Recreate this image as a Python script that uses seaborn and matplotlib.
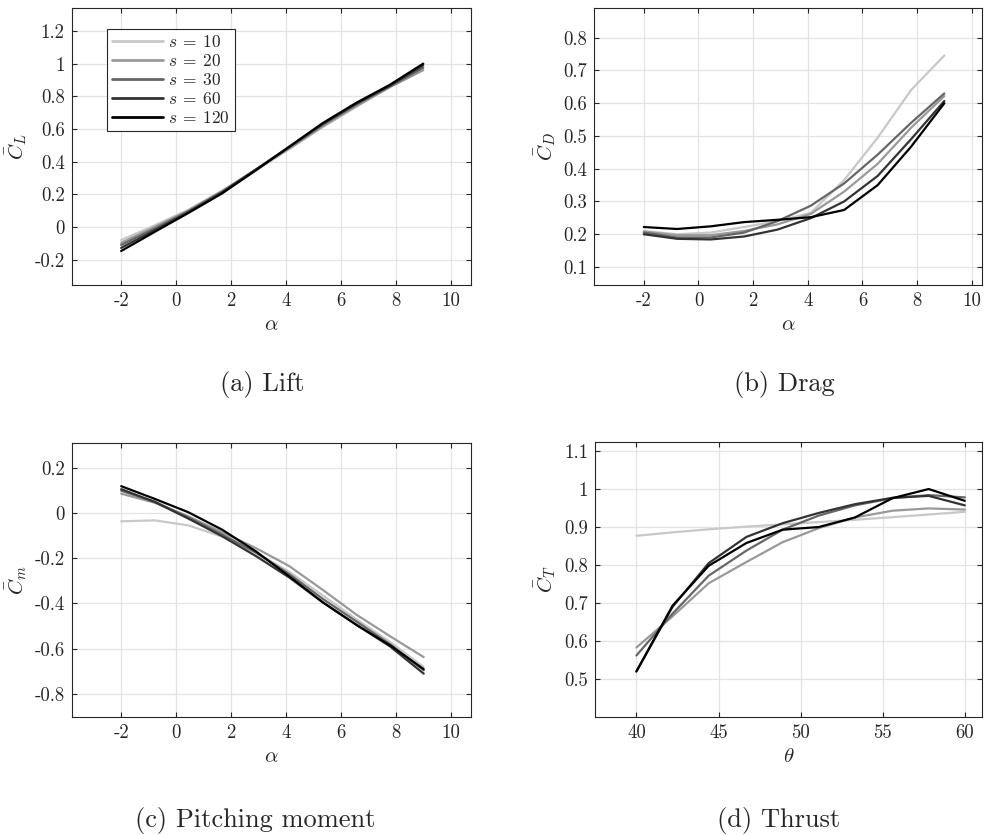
import numpy as np
import pandas as pd
import matplotlib
matplotlib.use("Agg")
import matplotlib.pyplot as plt
import seaborn as sns

# Sample grid: angle of attack (deg) and pitch angle theta (deg)
alpha = [-2.0, -0.78, 0.44, 1.67, 2.89, 4.11, 5.33, 6.56, 7.78, 9.0]
theta = [40.0, 42.2, 44.4, 46.7, 48.9, 51.1, 53.3, 55.6, 57.8, 60.0]

spans = [10, 20, 30, 60, 120]
span_colors = ["#c8c8c8", "#999999", "#666666", "#333333", "#000000"]

# Mean lift coefficient
lift_s10 = [-0.080, 0.010, 0.105, 0.220, 0.345, 0.475, 0.610, 0.735, 0.860, 0.975]
lift_s20 = [-0.097, 0.000, 0.100, 0.220, 0.350, 0.480, 0.615, 0.740, 0.855, 0.960]
lift_s30 = [-0.110, -0.010, 0.095, 0.215, 0.350, 0.485, 0.625, 0.750, 0.860, 0.975]
lift_s60 = [-0.128, -0.020, 0.090, 0.210, 0.350, 0.490, 0.630, 0.755, 0.865, 0.990]
lift_s120 = [-0.147, -0.030, 0.085, 0.205, 0.345, 0.490, 0.635, 0.760, 0.870, 1.000]

# Mean drag coefficient
drag_s10 = [0.210, 0.200, 0.205, 0.222, 0.240, 0.265, 0.365, 0.495, 0.640, 0.746]
drag_s20 = [0.208, 0.197, 0.197, 0.210, 0.230, 0.262, 0.330, 0.415, 0.525, 0.622]
drag_s30 = [0.205, 0.190, 0.190, 0.205, 0.240, 0.287, 0.355, 0.443, 0.540, 0.630]
drag_s60 = [0.200, 0.186, 0.184, 0.193, 0.214, 0.249, 0.300, 0.378, 0.490, 0.607]
drag_s120 = [0.222, 0.216, 0.224, 0.237, 0.244, 0.252, 0.274, 0.350, 0.467, 0.600]

# Mean pitching moment coefficient
moment_s10 = [-0.037, -0.033, -0.055, -0.105, -0.175, -0.260, -0.365, -0.470, -0.570, -0.680]
moment_s20 = [0.085, 0.045, -0.015, -0.085, -0.155, -0.235, -0.340, -0.450, -0.545, -0.637]
moment_s30 = [0.098, 0.050, -0.020, -0.095, -0.175, -0.270, -0.380, -0.480, -0.580, -0.695]
moment_s60 = [0.105, 0.048, -0.025, -0.103, -0.190, -0.285, -0.395, -0.495, -0.590, -0.710]
moment_s120 = [0.118, 0.062, 0.003, -0.074, -0.169, -0.280, -0.395, -0.495, -0.585, -0.690]

# Mean thrust coefficient
thrust_s10 = [0.877, 0.886, 0.894, 0.901, 0.907, 0.913, 0.919, 0.926, 0.933, 0.940]
thrust_s20 = [0.583, 0.665, 0.752, 0.808, 0.860, 0.897, 0.925, 0.943, 0.949, 0.946]
thrust_s30 = [0.562, 0.672, 0.772, 0.838, 0.893, 0.930, 0.957, 0.976, 0.984, 0.978]
thrust_s60 = [0.520, 0.690, 0.805, 0.874, 0.910, 0.937, 0.960, 0.977, 0.982, 0.957]
thrust_s120 = [0.520, 0.693, 0.798, 0.858, 0.893, 0.900, 0.925, 0.976, 1.000, 0.969]

sns.set_style("ticks")
plt.rcParams.update({
    "font.family": "serif",
    "font.serif": ["cmr10", "DejaVu Serif"],
    "mathtext.fontset": "cm",
    "axes.unicode_minus": False,
    "axes.formatter.use_mathtext": True,
})

FG = "#262626"
labels = [rf"$s\:=\:{s}$" for s in spans]
palette = dict(zip(labels, span_colors))


def long_form(xs, series):
    frames = []
    for lab, ys in zip(labels, series):
        frames.append(pd.DataFrame({"x": xs, "y": ys, "s": lab}))
    return pd.concat(frames, ignore_index=True)


def fmt(v):
    return f"{v:g}"


def style_axes(ax, xlim, ylim, xticks, yticks, xlabel, ylabel):
    ax.set_xlim(*xlim)
    ax.set_ylim(*ylim)
    ax.set_xticks(xticks)
    ax.set_xticklabels([fmt(v) for v in xticks])
    ax.set_yticks(yticks)
    ax.set_yticklabels([fmt(v) for v in yticks])
    ax.grid(True, color="#e3e3e3", lw=0.9)
    ax.set_axisbelow(True)
    for sp in ax.spines.values():
        sp.set_visible(True)
        sp.set_color(FG)
        sp.set_linewidth(0.8)
    ax.tick_params(direction="in", length=3.5, width=0.8, color=FG,
                   top=True, right=True, labelsize=13.5, labelcolor=FG, pad=5)
    ax.set_xlabel(xlabel, fontsize=15, color=FG, labelpad=5)
    ax.set_ylabel(ylabel, fontsize=15, color=FG, labelpad=4)


fig = plt.figure(figsize=(9.85, 8.35), dpi=100)
ax_a = fig.add_axes([0.0728, 0.6587, 0.4051, 0.3314])
ax_b = fig.add_axes([0.6034, 0.6587, 0.3936, 0.3314])
ax_c = fig.add_axes([0.0728, 0.1417, 0.4051, 0.3281])
ax_d = fig.add_axes([0.6041, 0.1417, 0.3929, 0.3293])

panels = [
    (ax_a, alpha, [lift_s10, lift_s20, lift_s30, lift_s60, lift_s120]),
    (ax_b, alpha, [drag_s10, drag_s20, drag_s30, drag_s60, drag_s120]),
    (ax_c, alpha, [moment_s10, moment_s20, moment_s30, moment_s60, moment_s120]),
    (ax_d, theta, [thrust_s10, thrust_s20, thrust_s30, thrust_s60, thrust_s120]),
]
for ax, xs, series in panels:
    sns.lineplot(data=long_form(xs, series), x="x", y="y", hue="s",
                 hue_order=labels, palette=palette, lw=1.6, sort=False,
                 estimator=None, legend=(ax is ax_a), ax=ax)

alpha_ticks = [-2, 0, 2, 4, 6, 8, 10]
style_axes(ax_a, (-3.8, 10.73), (-0.355, 1.339), alpha_ticks,
           [-0.2, 0, 0.2, 0.4, 0.6, 0.8, 1, 1.2], r"$\alpha$", r"$\bar{C}_L$")
style_axes(ax_b, (-3.81, 10.38), (0.045, 0.89), alpha_ticks,
           [0.1, 0.2, 0.3, 0.4, 0.5, 0.6, 0.7, 0.8], r"$\alpha$", r"$\bar{C}_D$")
style_axes(ax_c, (-3.8, 10.71), (-0.9, 0.31), alpha_ticks,
           [-0.8, -0.6, -0.4, -0.2, 0, 0.2], r"$\alpha$", r"$\bar{C}_m$")
style_axes(ax_d, (37.48, 61.05), (0.401, 1.1245), [40, 45, 50, 55, 60],
           [0.5, 0.6, 0.7, 0.8, 0.9, 1, 1.1], r"$\theta$", r"$\bar{C}_T$")

handles, labs = ax_a.get_legend_handles_labels()
for h in handles:
    h.set_linewidth(2.0)
leg = ax_a.legend(handles, labs, loc="upper left", bbox_to_anchor=(0.0885, 0.925),
                  borderaxespad=0, fontsize=12.5, frameon=True, fancybox=False,
                  framealpha=1, edgecolor=FG, handlelength=2.9, handletextpad=0.3,
                  labelspacing=0.17, borderpad=0.3)
leg.get_frame().set_linewidth(0.8)

caption_kw = dict(fontsize=19, color=FG, ha="center", va="center")
fig.text(262 / 985, 1 - 385 / 835, "(a) Lift", **caption_kw)
fig.text(784 / 985, 1 - 385 / 835, "(b) Drag", **caption_kw)
fig.text(255 / 985, 1 - 820 / 835, "(c) Pitching moment", **caption_kw)
fig.text(779 / 985, 1 - 820 / 835, "(d) Thrust", **caption_kw)

fig.savefig("out.png", dpi=100)
